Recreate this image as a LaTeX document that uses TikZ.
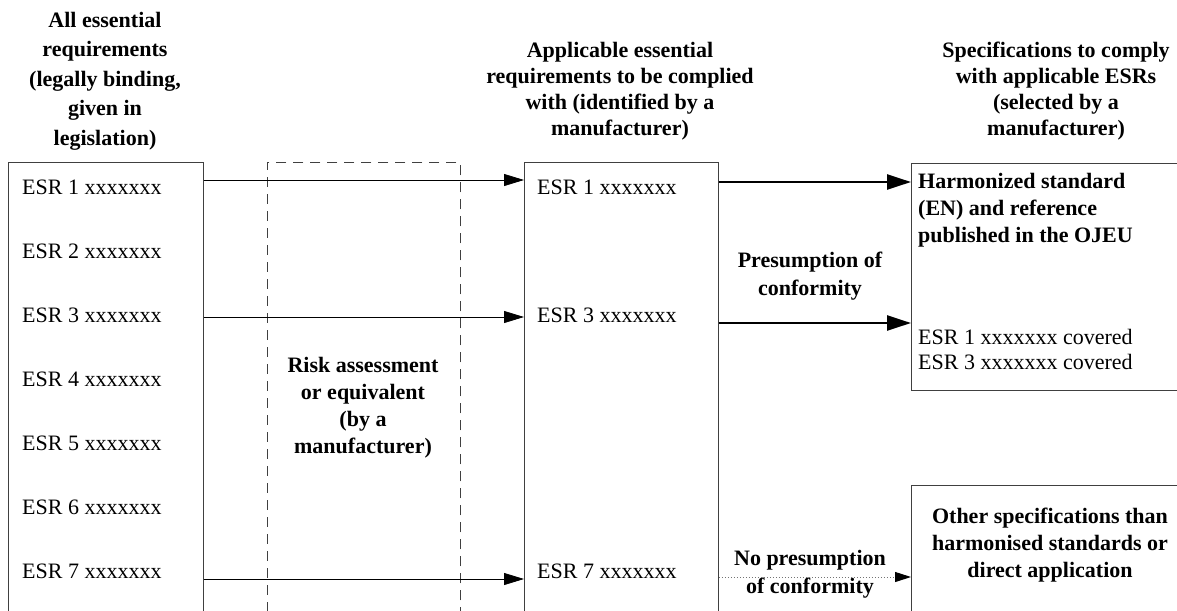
\documentclass[tikz,border=0pt]{standalone}
\usepackage{fontspec}
\setmainfont{Liberation Serif}
\usetikzlibrary{arrows.meta}

\begin{document}
\begin{tikzpicture}[x=1pt, y=-1pt,
    esrbox/.style={draw=black!75, line width=0.8pt, anchor=north west, inner sep=0pt},
    esr/.style={anchor=west, inner sep=0pt, font=\fontsize{22}{25}\selectfont},
    head/.style={align=center, inner sep=0pt, font=\bfseries\fontsize{22}{26}\selectfont},
    thinarrow/.style={-{Triangle[length=20pt,width=12pt]}, line width=0.8pt},
    thickarrow/.style={-{Triangle[length=24pt,width=15pt]}, line width=2.6pt},
    dotarrow/.style={-{Triangle[length=16pt,width=10pt,black]}, black!55, dotted, line width=1pt}]
    \useasboundingbox (0,0) rectangle (1177,610);
    \clip (0,0) rectangle (1177,610);

    % boxes run past the lower and right edge
    \node[esrbox, minimum width=195pt, minimum height=500pt] (allbox) at (8,162) {};
    \node[esrbox, dash pattern=on 10pt off 7pt, minimum width=193pt, minimum height=500pt] (riskbox) at (267,162) {};
    \node[esrbox, minimum width=194pt, minimum height=500pt] (appbox) at (524,162) {};
    \node[esrbox, minimum width=320pt, minimum height=227pt] (hsbox) at (911,163) {};
    \node[esrbox, minimum width=320pt, minimum height=200pt] (otherbox) at (911,485) {};

    \node[head, font=\bfseries\fontsize{22}{29.5}\selectfont] (allhead) at (105,81)
        {All essential\\requirements\\(legally binding,\\given in\\legislation)};
    \node[head] (apphead) at (620,91)
        {Applicable essential\\requirements to be complied\\with (identified by a\\manufacturer)};
    \node[head] (spechead) at (1056,91)
        {Specifications to comply\\with applicable ESRs\\(selected by a\\manufacturer)};

    \foreach \i in {1,...,7}
        \node[esr] (all\i) at (22,{123+64*\i}) {ESR \i\ xxxxxxx};
    \node[esr] (app1) at (537,187) {ESR 1 xxxxxxx};
    \node[esr] (app3) at (537,315) {ESR 3 xxxxxxx};
    \node[esr] (app7) at (537,571) {ESR 7 xxxxxxx};

    \node[head, font=\bfseries\fontsize{22}{27}\selectfont] (risk) at (363,408)
        {Risk assessment\\or equivalent\\(by a\\manufacturer)};
    \node[head, font=\bfseries\fontsize{22}{28}\selectfont] (pres) at (810,276)
        {Presumption of\\conformity};
    \node[head, font=\bfseries\fontsize{22}{28}\selectfont] (nopres) at (810,574)
        {No presumption\\of conformity};
    \node[head, align=left, anchor=west, font=\bfseries\fontsize{22}{27}\selectfont] (hs) at (918,210)
        {Harmonized standard\\(EN) and reference\\published in the OJEU};
    \node[esr, align=left] (covered) at (918,349)
        {ESR 1 xxxxxxx covered\\ESR 3 xxxxxxx covered};
    \node[head, font=\bfseries\fontsize{22}{27}\selectfont] (other) at (1050,545)
        {Other specifications than\\harmonised standards or\\direct application};

    \coordinate (r1) at (0,180);
    \coordinate (r3) at (0,317);
    \coordinate (r7) at (0,579);
    \coordinate (p1) at (0,182);
    \coordinate (p3) at (0,323);
    \coordinate (np) at (0,577);
    \draw[thinarrow] (r1 -| allbox.east) -- (r1 -| appbox.west);
    \draw[thinarrow] (r3 -| allbox.east) -- (r3 -| appbox.west);
    \draw[thinarrow] (r7 -| allbox.east) -- (r7 -| appbox.west);
    \draw[thickarrow] (p1 -| appbox.east) -- (p1 -| hsbox.west);
    \draw[thickarrow] (p3 -| appbox.east) -- (p3 -| hsbox.west);
    \draw[dotarrow] (np -| appbox.east) -- (np -| otherbox.west);
\end{tikzpicture}
\end{document}
